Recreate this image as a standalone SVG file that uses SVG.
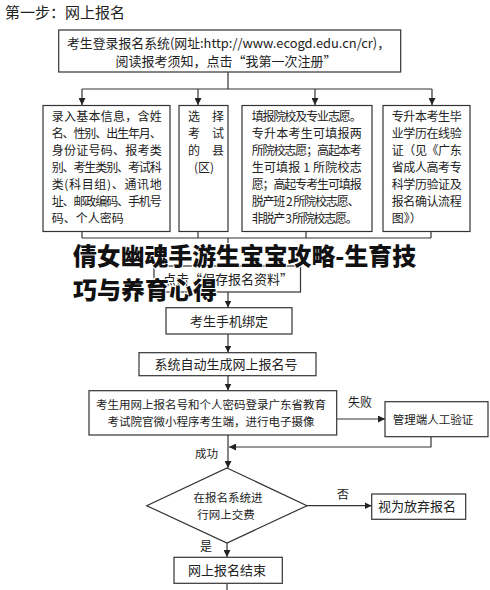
<svg xmlns="http://www.w3.org/2000/svg" width="490" height="590" viewBox="0 0 490 590">
<defs>
<marker id="ah" viewBox="0 0 10 10" refX="10" refY="5" markerWidth="7" markerHeight="7" markerUnits="userSpaceOnUse" orient="auto">
<path d="M0,0 L10,5 L0,10 z" fill="#222"/>
</marker>
<style>
.box{fill:#fff;stroke:#333;stroke-width:1.2}
.ln{fill:none;stroke:#333;stroke-width:1.2}
.ar{fill:none;stroke:#333;stroke-width:1.2;marker-end:url(#ah)}
text{font-family:"Noto Sans CJK SC","Liberation Sans",sans-serif;fill:#222}
.t12{font-size:12px}
.t13{font-size:13px}
.t11{font-size:11.5px}
.c{text-anchor:middle}
.wm{font-size:24px;font-weight:900;fill:#111;stroke:#fff;stroke-width:2;paint-order:stroke}
</style>
</defs>
<rect width="490" height="590" fill="#fff"/>
<text x="5" y="18" style="font-size:15px">第一步：网上报名</text>

<g id="connectors">
<path class="ln" d="M228,72 V89 M82,89 H432"/>
<path class="ar" d="M82,89 V105"/>
<path class="ar" d="M198,89 V105"/>
<path class="ar" d="M315,89 V105"/>
<path class="ar" d="M432,89 V105"/>
<path class="ln" d="M82,232 V238 M198,232 V238 M306,232 V238 M431,232 V238 M82,238 H431"/>
<path class="ar" d="M228,238 V266"/>
<path class="ar" d="M228,292 V307.5"/>
<path class="ar" d="M228,334 V352.5"/>
<path class="ar" d="M228,376 V390.5"/>
<path class="ar" d="M228,435 V468"/>
<path class="ar" d="M337,419 H385"/>
<path class="ar" d="M431,437 V447 H229"/>
<path class="ar" d="M307,505.7 H371.5"/>
<path class="ar" d="M227,543 V557"/>
<path class="ln" d="M227,583.5 V590"/>
<text class="t12" x="348" y="407">失败</text>
<text class="t11" x="195" y="458">成功</text>
<text class="t12" x="337" y="499">否</text>
<text class="t12" x="200" y="551">是</text>
</g>

<g id="n-login">
<rect class="box" x="58.7" y="30" width="342" height="42"/>
<text class="t13" x="67" y="47.5" textLength="323" lengthAdjust="spacingAndGlyphs">考生登录报名系统(网址:http://www.ecogd.edu.cn/cr)，</text>
<text class="t13 c" x="226" y="65.5">阅读报考须知，点击“我第一次注册”</text>
</g>

<g id="n-basic">
<rect class="box" x="43" y="105.5" width="127" height="126"/>
<g class="t12">
<text x="51.7" y="121" textLength="110">录入基本信息，含姓</text>
<text x="51.7" y="138" textLength="110">名、性别、出生年月、</text>
<text x="51.7" y="155" textLength="110">身份证号码、报考类</text>
<text x="51.7" y="172" textLength="110">别、考生类别、考试科</text>
<text x="51.7" y="189" textLength="110">类(科目组)、通讯地</text>
<text x="51.7" y="206" textLength="110">址、邮政编码、手机号</text>
<text x="51.7" y="223">码、个人密码</text>
</g>
</g>

<g id="n-county">
<rect class="box" x="179" y="105.5" width="49" height="126"/>
<g class="t12 c">
<text x="206" y="121">选　择</text>
<text x="206" y="138">考　试</text>
<text x="206" y="155">的　县</text>
<text x="204" y="172">(区)</text>
</g>
</g>

<g id="n-school">
<rect class="box" x="242" y="105.5" width="130" height="126"/>
<g class="t12">
<text x="251.7" y="121" textLength="110">填报院校及专业志愿。</text>
<text x="251.7" y="138" textLength="110">专升本考生可填报两</text>
<text x="251.7" y="155" textLength="110">所院校志愿；高起本考</text>
<text x="251.7" y="172" textLength="110">生可填报 1 所院校志</text>
<text x="251.7" y="189" textLength="110">愿；高起专考生可填报</text>
<text x="251.7" y="206" textLength="108">脱产班 2 所院校志愿、</text>
<text x="251.7" y="223" textLength="106">非脱产 3 所院校志愿。</text>
</g>
</g>

<g id="n-verify">
<rect class="box" x="383" y="105.5" width="87" height="126"/>
<g class="t12">
<text x="391.7" y="121" textLength="70">专升本考生毕</text>
<text x="391.7" y="138" textLength="70">业学历在线验</text>
<text x="391.7" y="155" textLength="70">证（见《广东</text>
<text x="391.7" y="172" textLength="70">省成人高考专</text>
<text x="391.7" y="189" textLength="70">科学历验证及</text>
<text x="391.7" y="206" textLength="70">报名确认流程</text>
<text x="391.7" y="223">图》）</text>
</g>
</g>

<g id="n-save">
<rect class="box" x="154" y="266" width="146.5" height="26"/>
<text class="t13" x="163" y="283.5">点击“保存报名资料”</text>
</g>

<g id="n-phone">
<rect class="box" x="166" y="307.7" width="126" height="26.3"/>
<text class="t13 c" x="229" y="325.5">考生手机绑定</text>
</g>

<g id="n-number">
<rect class="box" x="139" y="352.7" width="177" height="23"/>
<text class="t13 c" x="226" y="369">系统自动生成网上报名号</text>
</g>

<g id="n-photo">
<rect class="box" x="89" y="390.7" width="247.7" height="44.3"/>
<text class="t11 c" x="211" y="409">考生用网上报名号和个人密码登录广东省教育</text>
<text class="t11 c" x="211" y="426">考试院官微小程序考生端，进行电子摄像</text>
</g>

<g id="n-manual">
<rect class="box" x="385" y="401.7" width="103" height="35"/>
<text class="t11 c" x="433" y="423.5">管理端人工验证</text>
</g>

<g id="n-pay">
<polygon class="box" points="227,468 307,505.7 227,543 146.7,505.7"/>
<text class="t11 c" x="228" y="502">在报名系统进</text>
<text class="t11 c" x="226" y="519">行网上交费</text>
</g>

<g id="n-abandon">
<rect class="box" x="371.7" y="494" width="94" height="25.3"/>
<text class="t13 c" x="417" y="511">视为放弃报名</text>
</g>

<g id="n-end">
<rect class="box" x="174" y="557.3" width="108.3" height="26"/>
<text class="t13 c" x="227" y="575">网上报名结束</text>
</g>

<g id="watermark">
<text class="wm" x="73" y="265" textLength="343" lengthAdjust="spacingAndGlyphs">倩女幽魂手游生宝宝攻略-生育技</text>
<text class="wm" x="73" y="298.5" textLength="144" lengthAdjust="spacingAndGlyphs">巧与养育心得</text>
</g>
</svg>
